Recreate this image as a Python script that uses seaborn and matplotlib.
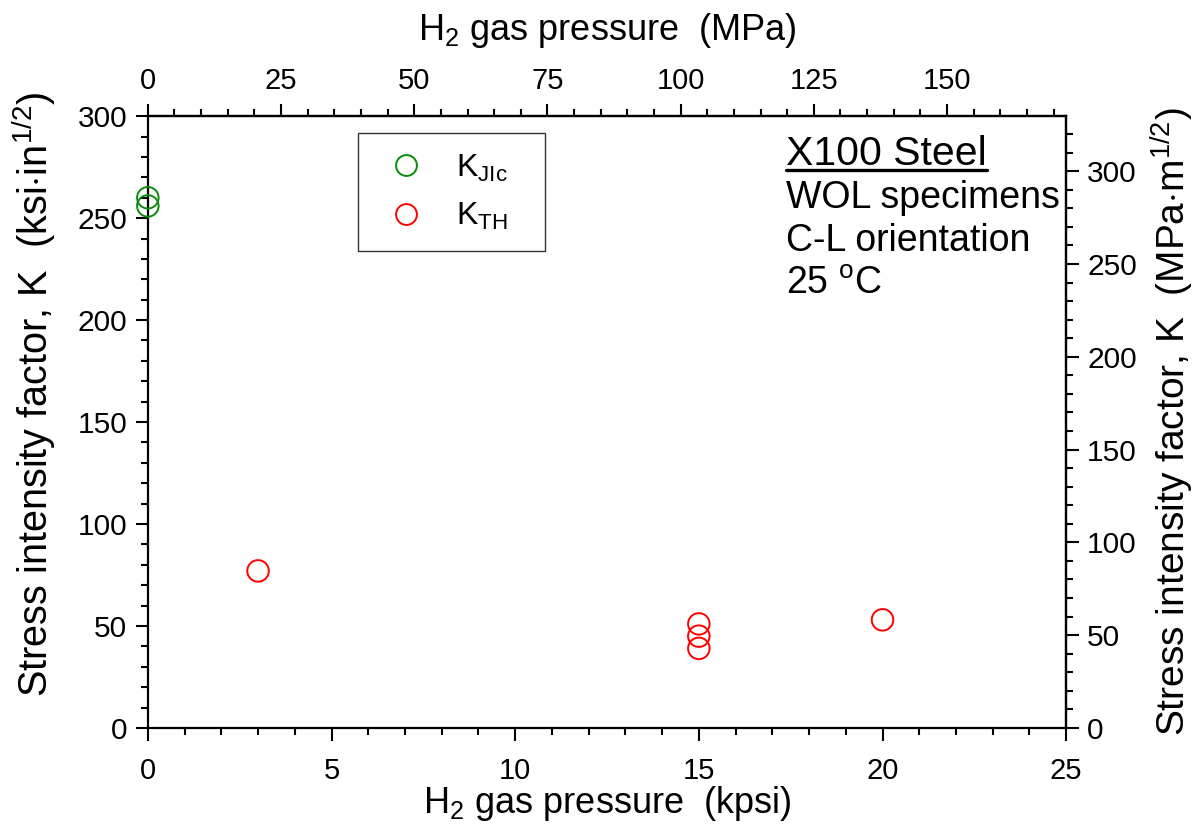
import numpy as np
import pandas as pd
import matplotlib
matplotlib.use("Agg")
import matplotlib.pyplot as plt
from matplotlib.lines import Line2D
from matplotlib.ticker import MultipleLocator
import seaborn as sns

# --- data ---
kjic_kpsi = [0, 0]
kjic_ksi = [260, 256]
kth_kpsi = [3, 15, 15, 15, 20]
kth_ksi = [77, 51, 45, 39, 53]
series_names = ["K$_{\\mathrm{JIc}}$", "K$_{\\mathrm{TH}}$"]
series_colors = ["#0a8a0a", "#ff0000"]
note_lines = ["WOL specimens", "C-L orientation", "25 $^{\\mathrm{o}}$C"]

KPSI_TO_MPA = 6.894757
KSI_TO_MPAM = 1.0988

df = pd.DataFrame({
    "p": kjic_kpsi + kth_kpsi,
    "k": kjic_ksi + kth_ksi,
    "series": [series_names[0]] * len(kjic_kpsi) + [series_names[1]] * len(kth_kpsi),
})

sns.set_style("white")
plt.rcParams["font.family"] = ["Liberation Sans", "DejaVu Sans"]
plt.rcParams["mathtext.fontset"] = "custom"
plt.rcParams["mathtext.rm"] = "Liberation Sans"
plt.rcParams["mathtext.it"] = "Liberation Sans:italic"
plt.rcParams["mathtext.bf"] = "Liberation Sans:bold"
for key in ["text.color", "axes.labelcolor", "xtick.color", "ytick.color"]:
    plt.rcParams[key] = "black"

fig = plt.figure(figsize=(12.02, 8.30), dpi=100)
ax = fig.add_axes([0.123, 0.123, 0.764, 0.737])

sns.scatterplot(data=df, x="p", y="k", hue="series", palette=series_colors,
                hue_order=series_names, s=240, marker="o", linewidth=1.4,
                legend=False, ax=ax, zorder=5, clip_on=False)
pts = ax.collections[0]
pts.set_edgecolors(pts.get_facecolors())
pts.set_facecolors("none")

ax.set_xlim(0, 25)
ax.set_ylim(0, 300)
ax.xaxis.set_major_locator(MultipleLocator(5))
ax.xaxis.set_minor_locator(MultipleLocator(1))
ax.yaxis.set_major_locator(MultipleLocator(50))
ax.yaxis.set_minor_locator(MultipleLocator(10))

for s in ax.spines.values():
    s.set_linewidth(1.6)
    s.set_color("black")

tick_kw = dict(direction="out", color="black", width=1.5)
ax.tick_params(which="major", length=9, pad=6, **tick_kw)
ax.tick_params(which="minor", length=5, **tick_kw)
ax.tick_params(axis="both", which="both", bottom=True, left=True)
ax.tick_params(axis="x", labelsize=21, pad=12)
ax.tick_params(axis="y", labelsize=21.5)

ax.set_xlabel("H$_2$ gas pressure  (kpsi)", fontsize=26, labelpad=-1)
ax.set_ylabel("Stress intensity factor, K  (ksi$\\cdot$in$^{1/2}$)", fontsize=28.5)
ax.yaxis.set_label_coords(-0.098, 0.545)

# top axis: MPa
top = ax.secondary_xaxis("top", functions=(lambda x: x * KPSI_TO_MPA, lambda x: x / KPSI_TO_MPA))
top.xaxis.set_major_locator(MultipleLocator(25))
top.xaxis.set_minor_locator(MultipleLocator(5))
top.tick_params(which="major", length=9, labelsize=21, pad=6, **tick_kw)
top.tick_params(which="minor", length=5, **tick_kw)
top.spines["top"].set_linewidth(1.6)
top.set_xlabel("H$_2$ gas pressure  (MPa)", fontsize=26, labelpad=20)

# right axis: MPa m^1/2
right = ax.secondary_yaxis("right", functions=(lambda y: y * KSI_TO_MPAM, lambda y: y / KSI_TO_MPAM))
right.yaxis.set_major_locator(MultipleLocator(50))
right.yaxis.set_minor_locator(MultipleLocator(10))
right.tick_params(which="major", length=9, labelsize=21.5, pad=6, **tick_kw)
right.tick_params(which="minor", length=5, **tick_kw)
right.spines["right"].set_linewidth(1.6)
right.set_ylabel("Stress intensity factor, K  (MPa$\\cdot$m$^{1/2}$)", fontsize=28,
                 labelpad=9)

# legend
handles = [Line2D([], [], ls="", marker="o", ms=15, mfc="none", mec=c, mew=1.4)
           for c in series_colors]
leg = ax.legend(handles, series_names, loc="upper left",
                bbox_to_anchor=(0.229, 0.784, 0.203, 0.188), mode="expand",
                frameon=True, fancybox=False, fontsize=23, borderpad=0.6,
                handletextpad=0.65, labelspacing=0.55, borderaxespad=0, handlelength=1.8)
leg.get_frame().set_edgecolor("black")
leg.get_frame().set_linewidth(1.0)

# annotation block
title = ax.text(0.695, 0.939, "X100 Steel", transform=ax.transAxes, fontsize=29.5,
                ha="left", va="center")
for i, line in enumerate(note_lines):
    ax.text(0.695, 0.866 - i * 0.0705, line, transform=ax.transAxes, fontsize=27,
            ha="left", va="center")

fig.canvas.draw()
bb = title.get_window_extent().transformed(ax.transAxes.inverted())
ax.plot([bb.x0, bb.x1], [bb.y0 + 0.004, bb.y0 + 0.004], transform=ax.transAxes,
        color="black", lw=2.4, clip_on=False)

fig.savefig("out.png", dpi=100)
